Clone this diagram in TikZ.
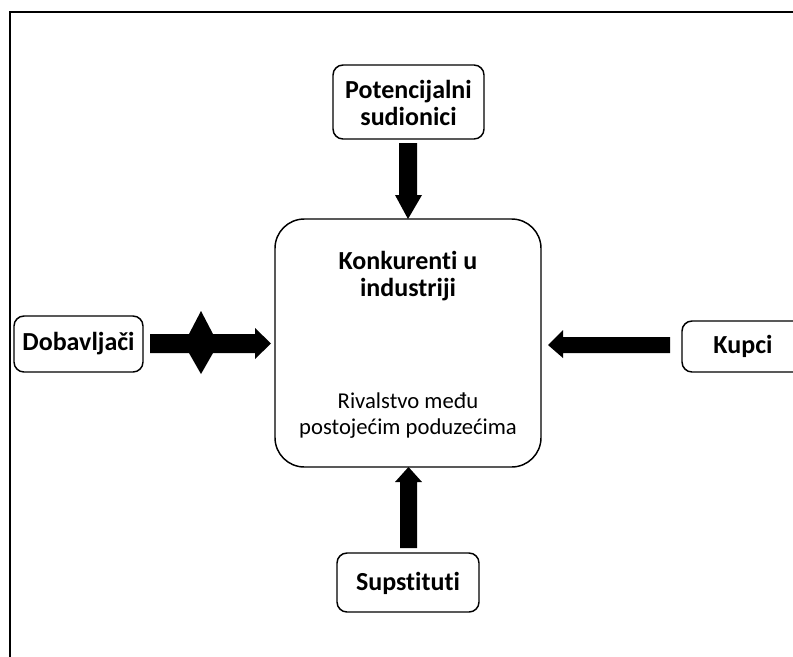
\documentclass[tikz,border=0pt]{standalone}
\usepackage{fontspec}
\setmainfont{Carlito}[Ligatures={NoCommon}]
\begin{document}
\begin{tikzpicture}[x=0.75pt,y=-0.75pt,
  box/.style={draw=black,line width=1.1pt,rounded corners=7.5pt},
  boldtxt/.style={font=\fontsize{19.5}{20.5}\selectfont\bfseries,align=center},
  regtxt/.style={font=\fontsize{17}{19.5}\selectfont,align=center},
  arr/.style={fill=black,draw=none},
  frame/.style={draw=black,line width=1.1pt}]
\clip (0,0) rectangle (793,657);
% frame
\coordinate (fa) at (793,12);
\coordinate (fb) at (10,12);
\coordinate (fc) at (10,657);
\draw[frame] (fa) -- (fb) -- (fc);
% boxes
\draw[box,rounded corners=22pt] (275,219) rectangle (541,467);
\node[boldtxt] (center) at (408,276) {Konkurenti u\\industriji};
\node[regtxt] (rival) at (408,416) {Rivalstvo među\\postojećim poduzećima};
\draw[box] (333,65) rectangle (484,139);
\node[boldtxt] (pot) at (408.5,103) {Potencijalni\\sudionici};
\draw[box] (337,553) rectangle (479,612);
\node[boldtxt] (sup) at (408,583) {Supstituti};
\draw[box] (14,316) rectangle (143,372);
\node[boldtxt] (dob) at (78.5,344) {Dobavljači};
\draw[box] (682,321) rectangle (804,372);
\node[boldtxt] (kup) at (743,346) {Kupci};
% arrows
\fill[arr] (399,143) -- (417,143) -- (417,195) -- (422,195) -- (408,219) -- (395,195) -- (399,195) -- cycle;
\fill[arr] (400,548) -- (417,548) -- (417,482) -- (422,482) -- (408.5,467) -- (395,482) -- (400,482) -- cycle;
\fill[arr] (150,334) -- (255,334) -- (255,328) -- (271,343.5) -- (255,359) -- (255,353) -- (150,353) -- cycle;
\fill[arr] (201,311) -- (213,334) -- (213,353) -- (201,374) -- (189,353) -- (189,334) -- cycle;
\fill[arr] (670,337) -- (563,337) -- (563,330) -- (548,345) -- (563,358) -- (563,353) -- (670,353) -- cycle;
\end{tikzpicture}
\end{document}
